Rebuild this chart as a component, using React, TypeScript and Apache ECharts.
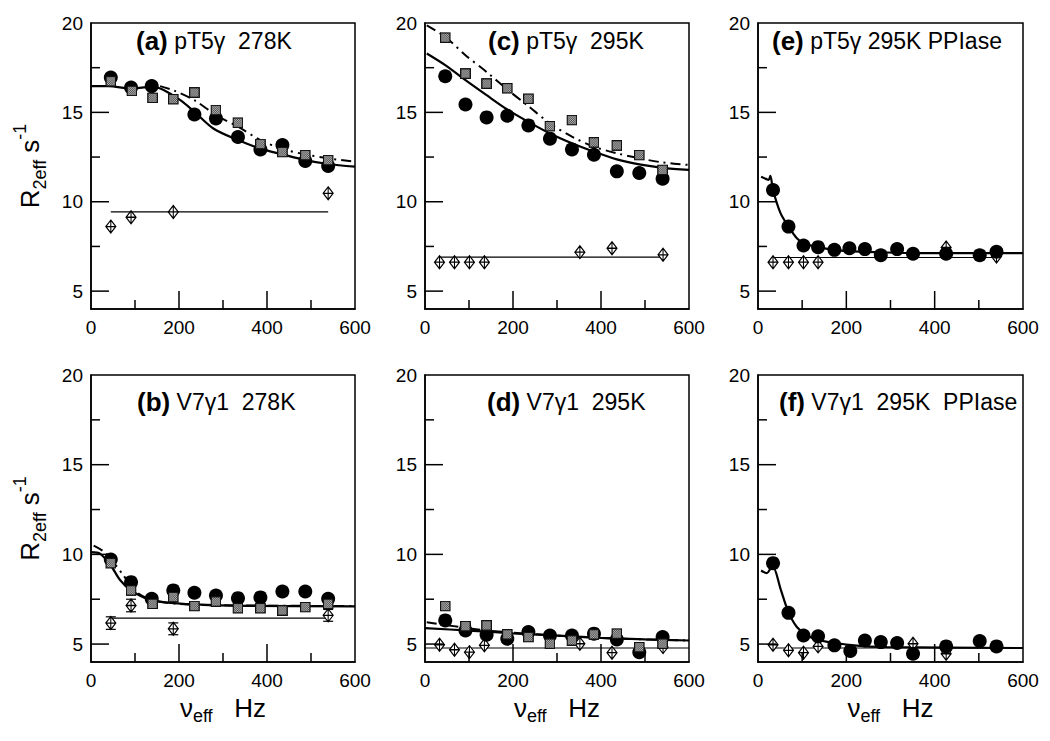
import React, { useEffect, useRef } from 'react';
import * as echarts from 'echarts';

const FONT = '"Liberation Sans", Arial, Helvetica, sans-serif';

// ---------- Panel (a) pT5γ 278K ----------
const aCircles = [[45, 16.95], [91, 16.39], [138, 16.47], [235, 14.88], [284, 14.66], [334, 13.62], [385, 12.93], [435, 13.17], [487, 12.28], [539, 12.0]];
const aSquares = [[45, 16.74], [93, 16.2], [140, 15.81], [187, 15.74], [235, 16.11], [284, 15.13], [334, 14.42], [385, 13.23], [435, 12.78], [487, 12.61], [539, 12.33]];
const aDiamonds = [[45, 8.61], [91, 9.13], [187, 9.43], [539, 10.47]];
const aFlat = [[45, 9.43], [539, 9.43]];
const aFit = [[0, 16.47], [40, 16.47], [91, 16.33], [120, 16.4], [140, 16.44], [165, 16.25], [203, 15.68], [235, 15.03], [278, 14.1], [334, 13.45], [385, 12.97], [435, 12.65], [487, 12.33], [539, 12.11], [600, 11.96]];
const aFit2 = [[157, 16.47], [187, 16.24], [235, 15.68], [284, 14.85], [334, 14.2], [385, 13.45], [435, 12.95], [487, 12.65], [539, 12.43], [600, 12.24]];

// ---------- Panel (b) V7γ1 278K ----------
const bCircles = [[45, 9.71], [91, 8.45], [138, 7.52], [187, 7.99], [235, 7.86], [284, 7.71], [334, 7.56], [385, 7.6], [435, 7.93], [487, 7.93], [539, 7.52]];
const bSquares = [[45, 9.51], [91, 7.99], [140, 7.24], [187, 7.62], [235, 7.12], [284, 7.37], [334, 7.0], [385, 7.0], [435, 6.87], [487, 7.06], [539, 7.24]];
const bDiamonds = [[45, 6.17], [91, 7.15], [187, 5.85], [539, 6.6]];
const bErrors = [[45, 5.82, 6.52], [91, 6.8, 7.5], [187, 5.52, 6.18], [539, 6.27, 6.93]];
const bFlat = [[45, 6.45], [539, 6.45]];
const bFit = [[0, 10.12], [21, 10.03], [45, 9.38], [67, 8.54], [91, 7.99], [127, 7.52], [165, 7.34], [235, 7.21], [354, 7.13], [600, 7.1]];
const bFit2 = [[6, 10.49], [29, 10.16], [51, 9.56], [74, 8.82], [104, 7.89], [142, 7.43], [203, 7.24], [300, 7.16], [600, 7.12]];

// ---------- Panel (c) pT5γ 295K ----------
const cCircles = [[46, 17.02], [92, 15.44], [140, 14.72], [187, 14.81], [235, 14.27], [284, 13.53], [334, 12.93], [384, 12.63], [436, 11.7], [487, 11.61], [540, 11.29]];
const cSquares = [[46, 19.18], [92, 17.17], [140, 16.61], [187, 16.35], [235, 15.76], [284, 14.23], [334, 14.57], [384, 13.32], [436, 13.15], [487, 12.61], [540, 11.78]];
const cDiamonds = [[33, 6.62], [67, 6.62], [101, 6.62], [135, 6.62], [352, 7.18], [425, 7.4], [541, 7.03]];
const cFlat = [[33, 6.9], [541, 6.9]];
const cFit = [[4, 18.29], [46, 17.64], [92, 16.8], [140, 15.96], [187, 15.16], [235, 14.47], [284, 13.82], [334, 13.27], [384, 12.8], [436, 12.37], [487, 12.09], [540, 11.9], [600, 11.78]];
const cFit2 = [[4, 19.87], [46, 19.22], [92, 18.2], [140, 17.26], [187, 16.28], [235, 15.35], [284, 14.38], [334, 13.64], [384, 13.08], [436, 12.71], [487, 12.43], [540, 12.2], [600, 12.06]];

// ---------- Panel (d) V7γ1 295K ----------
const dCircles = [[46, 6.32], [92, 5.76], [140, 5.52], [187, 5.3], [235, 5.67], [284, 5.48], [334, 5.48], [384, 5.58], [436, 5.26], [487, 4.55], [540, 5.39]];
const dSquares = [[46, 7.12], [92, 6.0], [140, 6.04], [187, 5.54], [235, 5.39], [284, 5.02], [334, 5.2], [384, 5.54], [436, 5.58], [487, 4.83], [540, 5.02]];
const dDiamonds = [[33, 4.96], [67, 4.68], [101, 4.55], [135, 4.93], [352, 5.02], [425, 4.52], [541, 4.83]];
const dFlat = [[0, 4.78], [600, 4.78]];
const dFit = [[0, 5.89], [100, 5.75], [200, 5.6], [292, 5.48], [400, 5.35], [500, 5.26], [600, 5.2]];
const dFit2 = [[4, 6.22], [65, 6.0], [140, 5.76], [292, 5.48], [443, 5.3], [600, 5.2]];

// ---------- Panel (e) pT5γ 295K PPIase ----------
const eCircles = [[34, 10.66], [69, 8.61], [103, 7.55], [136, 7.46], [173, 7.31], [207, 7.4], [242, 7.35], [278, 7.01], [315, 7.35], [351, 7.09], [426, 7.09], [502, 7.01], [540, 7.2]];
const eDiamonds = [[34, 6.62], [69, 6.62], [103, 6.62], [136, 6.62], [426, 7.44], [540, 6.94]];
const eFlat = [[34, 6.88], [540, 6.88]];
const eFit = [[7, 11.4], [18, 11.28], [24, 11.22], [28, 11.45], [34, 10.66], [51, 9.36], [69, 8.61], [88, 7.96], [103, 7.68], [136, 7.46], [173, 7.31], [217, 7.22], [292, 7.16], [360, 7.13], [600, 7.13]];

// ---------- Panel (f) V7γ1 295K PPIase ----------
const fCircles = [[34, 9.51], [69, 6.74], [103, 5.48], [136, 5.43], [173, 4.93], [209, 4.61], [242, 5.2], [278, 5.11], [315, 5.06], [351, 4.46], [426, 4.87], [502, 5.17], [540, 4.87]];
const fDiamonds = [[34, 4.96], [69, 4.65], [103, 4.52], [136, 4.87], [351, 5.02], [426, 4.46]];
const fFlat = [[34, 4.78], [600, 4.78]];
const fFit = [[7, 9.1], [20, 8.95], [28, 9.19], [34, 9.3], [51, 8.08], [69, 6.78], [88, 5.95], [111, 5.48], [141, 5.2], [217, 4.93], [292, 4.83], [600, 4.78]];

// ---------- Axes / labels ----------
const yMajor = [5, 10, 15, 20];
const xMajorTicks = [200, 400];
const xMinorTicks = [100, 300, 500];
const yMajorTicks = [5, 10, 15];
const yMinorTicks = [7.5, 12.5, 17.5];
const panelTags = ['(a)', '(c)', '(e)', '(b)', '(d)', '(f)'];
const panelNames = ['pT5γ  278K', 'pT5γ  295K', 'pT5γ 295K PPIase', 'V7γ1  278K', 'V7γ1  295K', 'V7γ1  295K  PPIase'];

const panelData = [
  { circ: aCircles, sq: aSquares, dia: aDiamonds, flat: aFlat, fit: aFit, fit2: aFit2, err: null },
  { circ: cCircles, sq: cSquares, dia: cDiamonds, flat: cFlat, fit: cFit, fit2: cFit2, err: null },
  { circ: eCircles, sq: null, dia: eDiamonds, flat: eFlat, fit: eFit, fit2: null, err: null },
  { circ: bCircles, sq: bSquares, dia: bDiamonds, flat: bFlat, fit: bFit, fit2: bFit2, err: bErrors },
  { circ: dCircles, sq: dSquares, dia: dDiamonds, flat: dFlat, fit: dFit, fit2: dFit2, err: null },
  { circ: fCircles, sq: null, dia: fDiamonds, flat: fFlat, fit: fFit, fit2: null, err: null },
];

// each panel gets its own chart container (page coordinates)
const cells = [
  { x: 0, y: 0, w: 390, h: 350, gl: 91, gt: 23, gw: 264, gh: 286, tx: 136, ty: 28 },
  { x: 390, y: 0, w: 335, h: 350, gl: 35, gt: 23, gw: 264, gh: 286, tx: 98, ty: 28 },
  { x: 725, y: 0, w: 325, h: 350, gl: 33, gt: 23, gw: 265, gh: 286, tx: 47, ty: 28 },
  { x: 0, y: 350, w: 390, h: 391, gl: 91, gt: 25, gw: 264, gh: 287, tx: 137, ty: 39 },
  { x: 390, y: 350, w: 335, h: 391, gl: 35, gt: 25, gw: 264, gh: 287, tx: 97, ty: 39 },
  { x: 725, y: 350, w: 325, h: 391, gl: 33, gt: 25, gw: 265, gh: 287, tx: 54, ty: 39 },
];

const sqSvg = "<svg xmlns='http://www.w3.org/2000/svg' width='24' height='24' viewBox='0 0 24 24'><defs><pattern id='p' width='4' height='4' patternUnits='userSpaceOnUse'><rect width='4' height='4' fill='#3c3c3c'/><rect width='2' height='2' fill='#c4c4c4'/><rect x='2' y='2' width='2' height='2' fill='#c4c4c4'/></pattern></defs><rect x='1.5' y='1.5' width='21' height='21' fill='url(#p)' stroke='#111' stroke-width='3'/></svg>";
const SQ_SYMBOL = 'image://data:image/svg+xml;charset=utf-8,' + encodeURIComponent(sqSvg);
const DIA_SYMBOL = 'path://M5 0L10 6L5 12L0 6Z M5 0L5 12 M0 6L10 6';

function buildSeries(d: any) {
  const s: any[] = [];
  s.push({ type: 'line', data: d.flat, symbol: 'none', lineStyle: { color: '#000', width: 1.2 }, z: 2 });
  if (d.fit2) s.push({ type: 'line', data: d.fit2, symbol: 'none', smooth: 0.3, lineStyle: { color: '#000', width: 2, type: [10, 5, 2, 5] }, z: 2 });
  s.push({ type: 'line', data: d.fit, symbol: 'none', smooth: 0.3, lineStyle: { color: '#000', width: 2.2 }, z: 3 });
  if (d.err) {
    s.push({
      type: 'custom', z: 4, data: d.err,
      renderItem: (_p: any, api: any) => {
        const x = api.value(0);
        const lo = api.coord([x, api.value(1)]);
        const hi = api.coord([x, api.value(2)]);
        const st = { stroke: '#000', lineWidth: 1.2 };
        return {
          type: 'group', children: [
            { type: 'line', shape: { x1: lo[0], y1: lo[1], x2: hi[0], y2: hi[1] }, style: st },
            { type: 'line', shape: { x1: lo[0] - 5, y1: lo[1], x2: lo[0] + 5, y2: lo[1] }, style: st },
            { type: 'line', shape: { x1: hi[0] - 5, y1: hi[1], x2: hi[0] + 5, y2: hi[1] }, style: st },
          ],
        };
      },
    });
  }
  s.push({ type: 'scatter', data: d.dia, symbol: DIA_SYMBOL, symbolSize: [10, 13], itemStyle: { color: '#fff', borderColor: '#000', borderWidth: 1.2, opacity: 1 }, z: 5 });
  s.push({ type: 'scatter', data: d.circ, symbol: 'circle', symbolSize: 14, itemStyle: { color: '#000', opacity: 1 }, z: 6 });
  if (d.sq) s.push({ type: 'scatter', data: d.sq, symbol: SQ_SYMBOL, symbolSize: 11, itemStyle: { opacity: 1 }, z: 7 });
  return s;
}

function titleElement(i: number) {
  const c = cells[i];
  return {
    id: 'title', type: 'text', left: c.tx, top: c.ty, z: 100,
    style: {
      text: `{b|${panelTags[i]}}{n| ${panelNames[i]}}`,
      rich: {
        b: { fontSize: 26, fontWeight: 'bold', fontFamily: FONT, fill: '#000' },
        n: { fontSize: 23, fontFamily: FONT, fill: '#000' },
      },
    },
  };
}

function buildOption(i: number) {
  const c = cells[i];
  const isLeft = i % 3 === 0;
  const isBottom = i >= 3;
  const xAxis: any = {
    type: 'value', min: 0, max: 600, interval: 200,
    axisLine: { show: true, lineStyle: { color: '#000', width: 1.5 } },
    axisTick: { show: false },
    axisLabel: { color: '#000', fontSize: 19, fontFamily: FONT, margin: 9 },
    splitLine: { show: false },
  };
  if (isBottom) {
    xAxis.name = '{n|ν}{s|eff}{h|   Hz}';
    xAxis.nameLocation = 'middle';
    xAxis.nameGap = 29;
    xAxis.nameTextStyle = {
      color: '#000',
      rich: {
        n: { fontSize: 26, fontFamily: FONT, color: '#000', lineHeight: 34 },
        s: { fontSize: 18, fontFamily: FONT, color: '#000', verticalAlign: 'bottom' },
        h: { fontSize: 26, fontFamily: FONT, color: '#000' },
      },
    };
  }
  const yAxis: any = {
    type: 'value', min: 4, max: 20, position: 'left',
    axisLine: { show: true, lineStyle: { color: '#000', width: 1.5 } },
    axisTick: { show: false },
    axisLabel: { color: '#000', fontSize: 19, fontFamily: FONT, margin: 8, customValues: yMajor },
    splitLine: { show: false },
  };
  if (isLeft) {
    yAxis.name = '{r|R}{s|2eff}{r| s}{p|-1}';
    yAxis.nameLocation = 'middle';
    yAxis.nameGap = 42;
    yAxis.nameRotate = 90;
    yAxis.nameTextStyle = {
      color: '#000',
      rich: {
        r: { fontSize: 26, fontFamily: FONT, color: '#000', lineHeight: 38 },
        s: { fontSize: 18, fontFamily: FONT, color: '#000', verticalAlign: 'bottom' },
        p: { fontSize: 18, fontFamily: FONT, color: '#000', verticalAlign: 'top' },
      },
    };
  }
  return {
    animation: false,
    backgroundColor: '#fff',
    grid: { left: c.gl, top: c.gt, width: c.gw, height: c.gh, show: true, borderColor: '#000', borderWidth: 1.5 },
    xAxis,
    yAxis,
    series: buildSeries(panelData[i]),
    graphic: { elements: [titleElement(i)] },
  };
}

// inward tick marks: positions come from the chart's own scales (convertToPixel)
function tickElements(chart: any) {
  const els: any[] = [];
  const st = { stroke: '#000', lineWidth: 1.5 };
  const finder = { gridIndex: 0 };
  const addX = (v: number, len: number, n: string) => {
    const p = chart.convertToPixel(finder, [v, 4]);
    if (!p) return;
    els.push({ id: n, type: 'line', z: 1000, silent: true, shape: { x1: p[0], y1: p[1], x2: p[0], y2: p[1] - len }, style: st });
  };
  const addY = (v: number, len: number, n: string) => {
    const p = chart.convertToPixel(finder, [0, v]);
    if (!p) return;
    els.push({ id: n, type: 'line', z: 1000, silent: true, shape: { x1: p[0], y1: p[1], x2: p[0] + len, y2: p[1] }, style: st });
  };
  xMajorTicks.forEach((v, k) => addX(v, 18, 'xM' + k));
  xMinorTicks.forEach((v, k) => addX(v, 9, 'xm' + k));
  yMajorTicks.forEach((v, k) => addY(v, 18, 'yM' + k));
  yMinorTicks.forEach((v, k) => addY(v, 9, 'ym' + k));
  return els;
}

function Panel({ i }: { i: number }) {
  const ref = useRef<HTMLDivElement>(null);
  const c = cells[i];
  useEffect(() => {
    if (!ref.current) return;
    const chart = echarts.init(ref.current, null, { renderer: 'svg' });
    chart.setOption(buildOption(i));
    chart.setOption({ graphic: { elements: [titleElement(i), ...tickElements(chart)] } });
    return () => chart.dispose();
  }, [i]);
  return <div ref={ref} style={{ position: 'absolute', left: c.x, top: c.y, width: c.w, height: c.h }} />;
}

export default function App() {
  return (
    <div style={{ position: 'fixed', left: 0, top: 0, width: 1050, height: 741, background: '#fff' }}>
      {cells.map((_, i) => <Panel key={i} i={i} />)}
    </div>
  );
}
